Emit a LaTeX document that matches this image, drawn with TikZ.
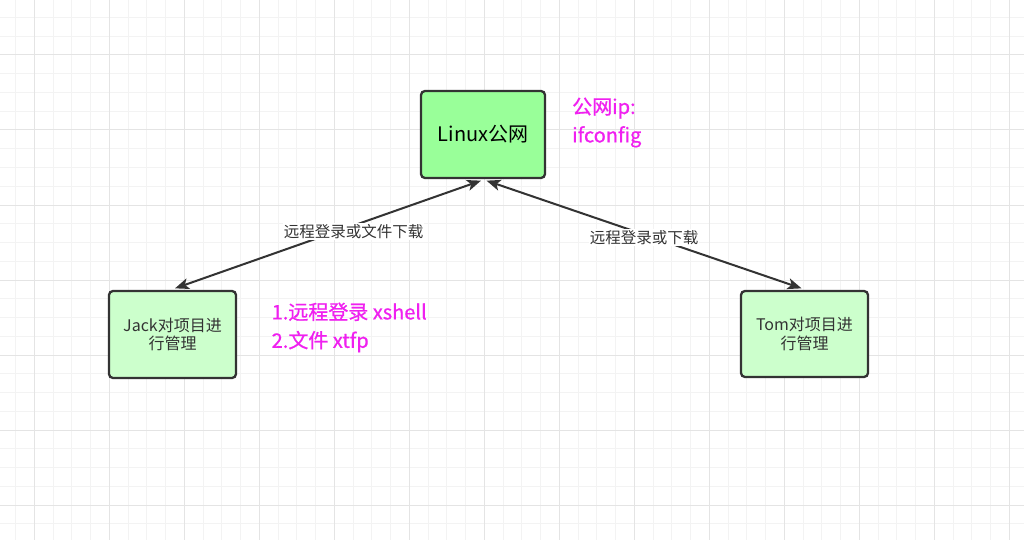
\documentclass[tikz,border=0pt]{standalone}
\usepackage{fontspec}
\setmainfont{Noto Sans CJK SC}
\newfontfamily\magfont[FakeBold=0.8]{Noto Sans CJK SC}
\usetikzlibrary{arrows.meta,calc}
\definecolor{minorgrid}{HTML}{F3F3F3}
\definecolor{majorgrid}{HTML}{E4E4E4}
\definecolor{edgec}{HTML}{333333}
\definecolor{linuxfill}{HTML}{99FF99}
\definecolor{userfill}{HTML}{CCFFCC}
\definecolor{mag}{HTML}{F020F0}
\begin{document}
\begin{tikzpicture}[x=1pt,y=-1pt,
  box/.style={draw=edgec, line width=2.3pt, rounded corners=4pt, align=center, inner sep=0pt, text=edgec},
  link/.style={draw=edgec, line width=2pt, {Stealth[length=14pt,width=11pt,inset=3.5pt]}-{Stealth[length=14pt,width=11pt,inset=3.5pt]}},
  lbl/.style={fill=white, inner sep=1pt, font=\fontsize{15.5}{18}\selectfont, text=edgec},
  note/.style={text=mag, align=left, anchor=west, inner sep=0pt, font=\magfont\fontsize{20}{28.4}\selectfont},
  minorline/.style={draw=minorgrid, line width=1pt},
  majorline/.style={draw=majorgrid, line width=1pt}]
\useasboundingbox (0,0) rectangle (1024,540);
\fill[white] (0,0) rectangle (1024,540);
% grid
\foreach \i in {0,...,54} {
  \draw[minorline] ({15.55+18.75*\i},0) -- ++(0,540);
}
\foreach \i in {0,...,29} {
  \draw[minorline] (0,{-1.25+18.75*\i}) -- ++(1024,0);
}
\foreach \i in {0,...,13} {
  \draw[majorline] ({34.3+75*\i},0) -- ++(0,540);
}
\foreach \i in {-1,...,6} {
  \draw[majorline] (0,{55+75*\i}) -- ++(1024,0);
}
% nodes
\node[box, fill=linuxfill, minimum width=124pt, minimum height=87pt, text=black,
      font=\fontsize{20}{24}\selectfont] (linux) at (483,134.5) {Linux公网};
\node[box, fill=userfill, minimum width=127pt, minimum height=87pt,
      font=\fontsize{16}{18.5}\selectfont] (jack) at (172.5,334.5) {Jack对项目进\\行管理};
\node[box, fill=userfill, minimum width=127pt, minimum height=86pt,
      font=\fontsize{16}{18.5}\selectfont] (tom) at (804.5,334) {Tom对项目进\\行管理};
\node[note] (ipnote) at (572,122.5) {公网ip:\\ifconfig};
\node[note] (toolnote) at (271.5,327.5) {1.远程登录 xshell\\2.文件 xtfp};
% connector ends
\coordinate (jtop) at ($(jack.north)+(2.5,-1.5)$);
\coordinate (lbl1) at ($(linux.south)+(-2,1.5)$);
\coordinate (lbr1) at ($(linux.south)+(3.5,1.5)$);
\coordinate (ttop) at ($(tom.north)+(-3,-1.5)$);
% connectors
\draw[link] (jtop) -- node[lbl, pos=0.584, yshift=-6pt] (l1) {远程登录或文件下载} (lbl1);
\draw[link] (lbr1) -- node[lbl, pos=0.5, yshift=-3pt] (l2) {远程登录或下载} (ttop);
\end{tikzpicture}
\end{document}
